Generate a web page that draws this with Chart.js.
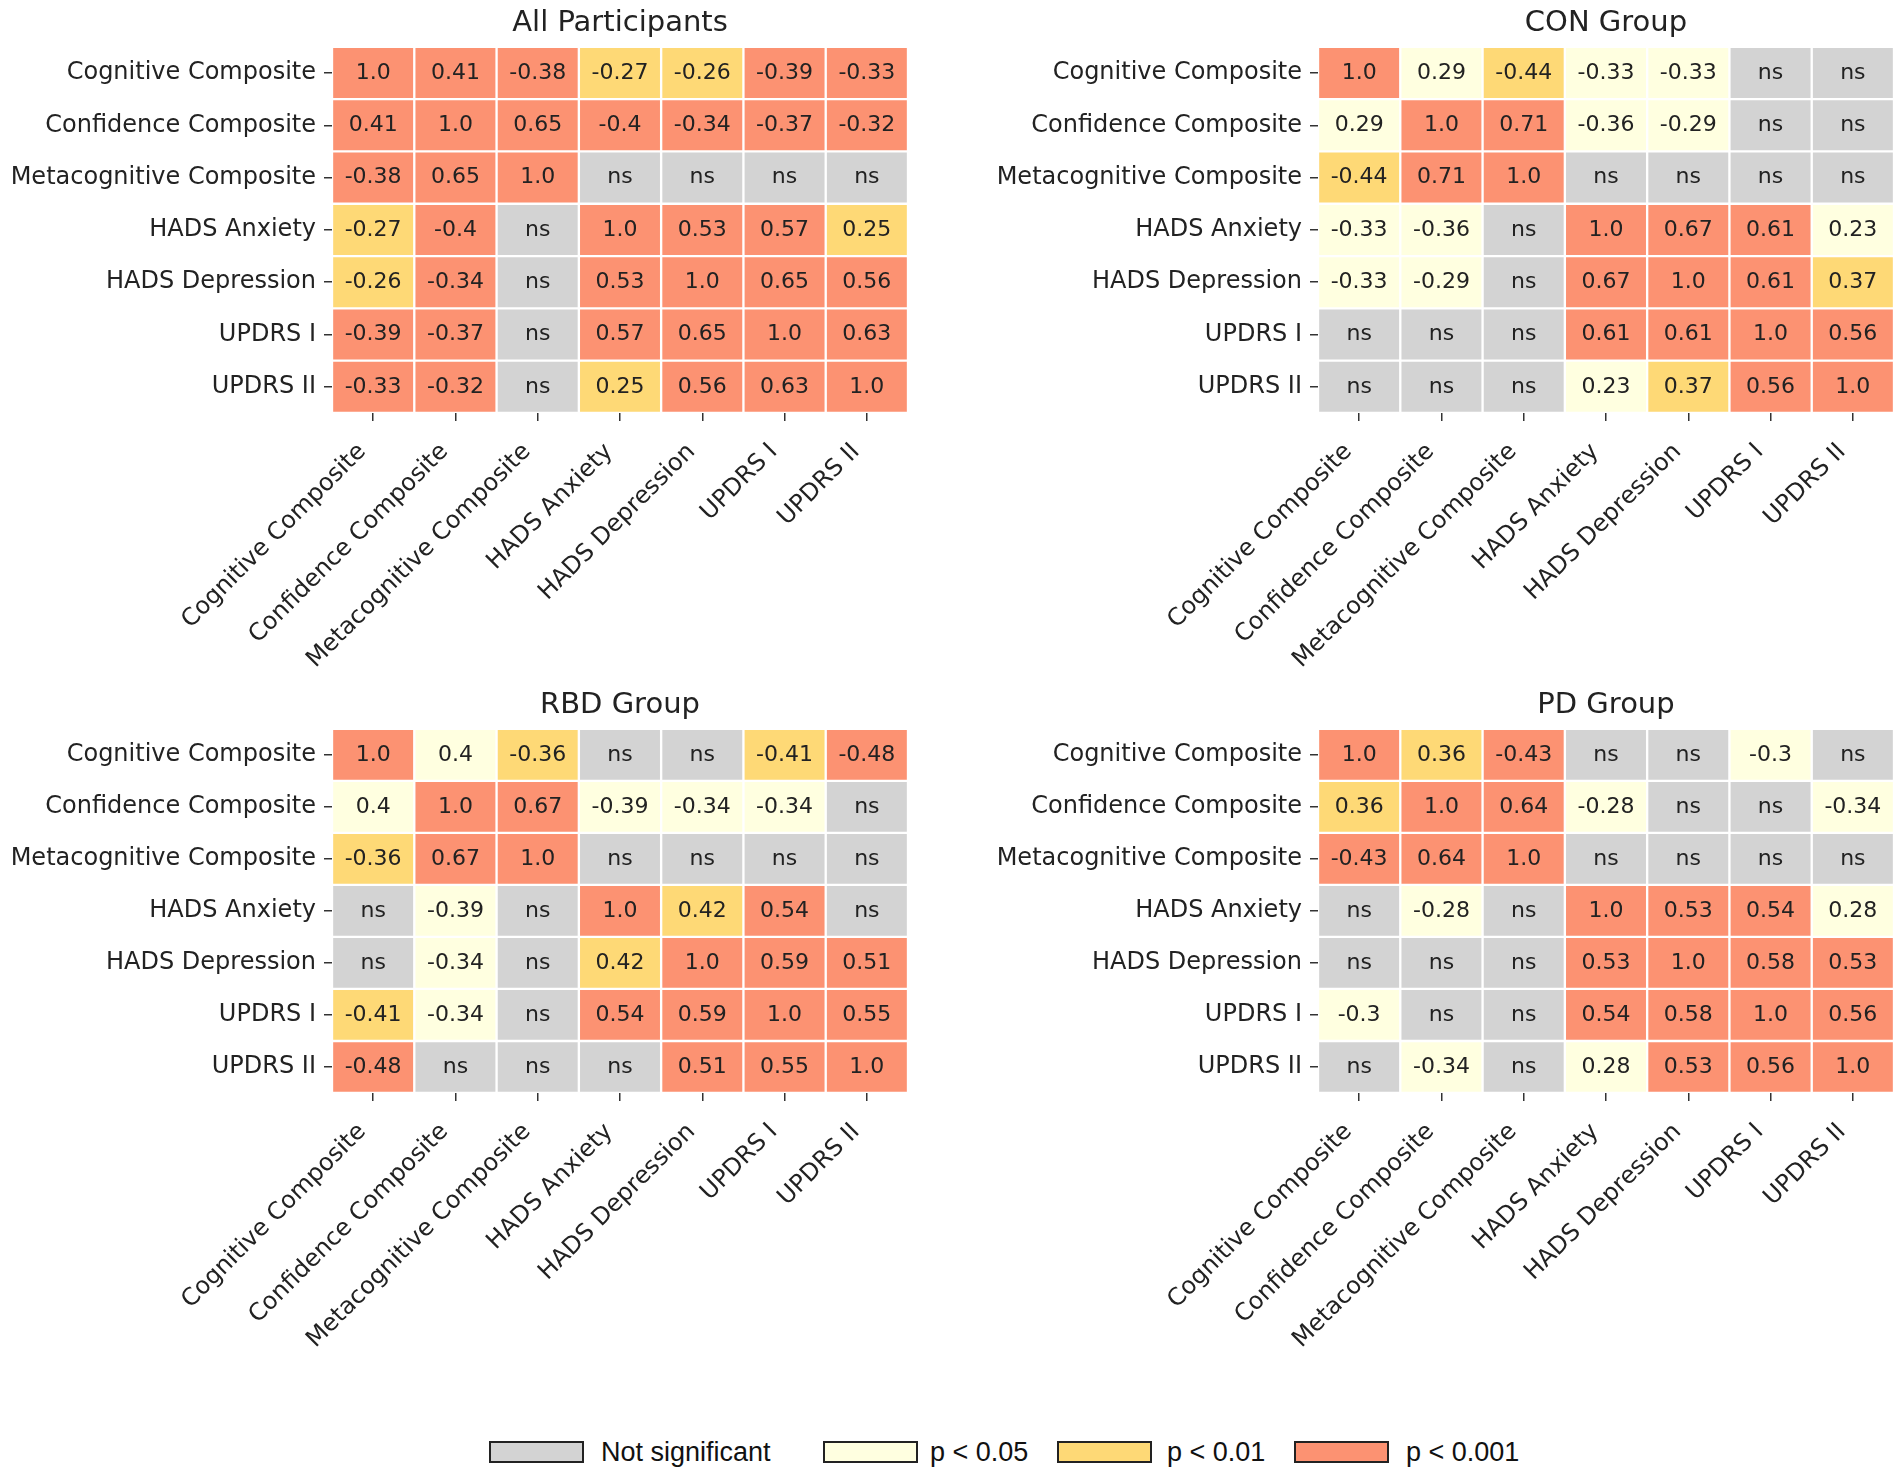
<!DOCTYPE html>
<html>
<head>
<meta charset="utf-8">
<title>Correlation heatmaps</title>
<script src="https://cdn.jsdelivr.net/npm/chart.js@4.4.1/dist/chart.umd.min.js"></script>
<style>
  html, body { margin: 0; padding: 0; background: #fff; }
  body { width: 1902px; height: 1475px; position: relative; overflow: hidden; }
  .panel { position: absolute; width: 951px; }
  .key { position: absolute; top: 1441px; width: 91px; height: 18px; border: 2px solid #222; }
  .lab { position: absolute; top: 1441px; line-height: 22px; white-space: nowrap;
         font-family: "Liberation Sans", Arial, sans-serif; font-size: 27px; color: #111; }
</style>
</head>
<body>
<div class="panel" style="left:0;top:0;height:682px"><canvas id="allChart"></canvas></div>
<div class="panel" style="left:951px;top:0;height:682px"><canvas id="conChart"></canvas></div>
<div class="panel" style="left:0;top:682px;height:680px"><canvas id="rbdChart"></canvas></div>
<div class="panel" style="left:951px;top:682px;height:680px"><canvas id="pdChart"></canvas></div>
<div id="legend"></div>

<script>
// measures, used for both rows and columns
const measures = ['Cognitive Composite', 'Confidence Composite', 'Metacognitive Composite',
  'HADS Anxiety', 'HADS Depression', 'UPDRS I', 'UPDRS II'];

// correlation values, null = not significant ("ns")
const allValues = [
  [1.0, 0.41, -0.38, -0.27, -0.26, -0.39, -0.33],
  [0.41, 1.0, 0.65, -0.4, -0.34, -0.37, -0.32],
  [-0.38, 0.65, 1.0, null, null, null, null],
  [-0.27, -0.4, null, 1.0, 0.53, 0.57, 0.25],
  [-0.26, -0.34, null, 0.53, 1.0, 0.65, 0.56],
  [-0.39, -0.37, null, 0.57, 0.65, 1.0, 0.63],
  [-0.33, -0.32, null, 0.25, 0.56, 0.63, 1.0]
];
// significance level: 0 ns, 1 p<0.05, 2 p<0.01, 3 p<0.001
const allSig = [
  [3, 3, 3, 2, 2, 3, 3],
  [3, 3, 3, 3, 3, 3, 3],
  [3, 3, 3, 0, 0, 0, 0],
  [2, 3, 0, 3, 3, 3, 2],
  [2, 3, 0, 3, 3, 3, 3],
  [3, 3, 0, 3, 3, 3, 3],
  [3, 3, 0, 2, 3, 3, 3]
];

const conValues = [
  [1.0, 0.29, -0.44, -0.33, -0.33, null, null],
  [0.29, 1.0, 0.71, -0.36, -0.29, null, null],
  [-0.44, 0.71, 1.0, null, null, null, null],
  [-0.33, -0.36, null, 1.0, 0.67, 0.61, 0.23],
  [-0.33, -0.29, null, 0.67, 1.0, 0.61, 0.37],
  [null, null, null, 0.61, 0.61, 1.0, 0.56],
  [null, null, null, 0.23, 0.37, 0.56, 1.0]
];
const conSig = [
  [3, 1, 2, 1, 1, 0, 0],
  [1, 3, 3, 1, 1, 0, 0],
  [2, 3, 3, 0, 0, 0, 0],
  [1, 1, 0, 3, 3, 3, 1],
  [1, 1, 0, 3, 3, 3, 2],
  [0, 0, 0, 3, 3, 3, 3],
  [0, 0, 0, 1, 2, 3, 3]
];

const rbdValues = [
  [1.0, 0.4, -0.36, null, null, -0.41, -0.48],
  [0.4, 1.0, 0.67, -0.39, -0.34, -0.34, null],
  [-0.36, 0.67, 1.0, null, null, null, null],
  [null, -0.39, null, 1.0, 0.42, 0.54, null],
  [null, -0.34, null, 0.42, 1.0, 0.59, 0.51],
  [-0.41, -0.34, null, 0.54, 0.59, 1.0, 0.55],
  [-0.48, null, null, null, 0.51, 0.55, 1.0]
];
const rbdSig = [
  [3, 1, 2, 0, 0, 2, 3],
  [1, 3, 3, 1, 1, 1, 0],
  [2, 3, 3, 0, 0, 0, 0],
  [0, 1, 0, 3, 2, 3, 0],
  [0, 1, 0, 2, 3, 3, 3],
  [2, 1, 0, 3, 3, 3, 3],
  [3, 0, 0, 0, 3, 3, 3]
];

const pdValues = [
  [1.0, 0.36, -0.43, null, null, -0.3, null],
  [0.36, 1.0, 0.64, -0.28, null, null, -0.34],
  [-0.43, 0.64, 1.0, null, null, null, null],
  [null, -0.28, null, 1.0, 0.53, 0.54, 0.28],
  [null, null, null, 0.53, 1.0, 0.58, 0.53],
  [-0.3, null, null, 0.54, 0.58, 1.0, 0.56],
  [null, -0.34, null, 0.28, 0.53, 0.56, 1.0]
];
const pdSig = [
  [3, 2, 3, 0, 0, 1, 0],
  [2, 3, 3, 1, 0, 0, 1],
  [3, 3, 3, 0, 0, 0, 0],
  [0, 1, 0, 3, 3, 3, 1],
  [0, 0, 0, 3, 3, 3, 3],
  [1, 0, 0, 3, 3, 3, 3],
  [0, 1, 0, 1, 3, 3, 3]
];

const sigColors = ['#d3d3d3', '#ffffe0', '#fed976', '#fc9272'];
const sigNames = ['Not significant', 'p < 0.05', 'p < 0.01', 'p < 0.001'];

const textColor = '#222';
const tickFont = { family: 'DejaVu Sans', size: 24 };

// writes the r value (or "ns") in the middle of every cell
const cellText = {
  id: 'cellText',
  afterDatasetsDraw(chart) {
    const ctx = chart.ctx;
    ctx.save();
    ctx.font = '22px "DejaVu Sans"';
    ctx.fillStyle = textColor;
    ctx.textAlign = 'center';
    ctx.textBaseline = 'middle';
    chart.data.datasets.forEach((ds, r) => {
      chart.getDatasetMeta(r).data.forEach((bar, c) => {
        const v = ds.cellValues[c];
        const txt = v === null ? 'ns' : (Number.isInteger(v) ? v.toFixed(1) : String(v));
        ctx.fillText(txt, bar.x, (bar.y + bar.base) / 2);
      });
    });
    ctx.restore();
  }
};

function drawPanel(id, title, values, sig, yWidth, padRight, xHeight) {
  new Chart(document.getElementById(id), {
    type: 'bar',
    data: {
      labels: measures,
      // one stacked dataset per row, every cell one unit tall
      datasets: measures.map((name, r) => ({
        label: name,
        data: measures.map(() => 1),
        cellValues: values[r],
        backgroundColor: sig[r].map(s => sigColors[s]),
        borderColor: '#ffffff',
        borderWidth: 1.5,
        borderSkipped: false,
        barPercentage: 1,
        categoryPercentage: 1
      }))
    },
    options: {
      responsive: true,
      maintainAspectRatio: false,
      animation: false,
      layout: { padding: { left: 0, right: padRight, top: 0, bottom: 0 } },
      plugins: {
        legend: { display: false },
        tooltip: { enabled: false },
        title: {
          display: true,
          text: title,
          fullSize: false,
          color: textColor,
          font: { family: 'DejaVu Sans', size: 29, weight: 'normal' },
          padding: { top: 6, bottom: 6 }
        }
      },
      scales: {
        x: {
          stacked: true,
          offset: true,
          border: { display: false },
          grid: { offset: false, drawOnChartArea: false, drawTicks: true, tickLength: 8, color: '#333', lineWidth: 1.5 },
          ticks: {
            autoSkip: false, minRotation: 45, maxRotation: 45, padding: 6, color: textColor, font: tickFont,
            // trailing gap so the rotated label ends just below-left of its tick
            callback: (v, i) => measures[i] + '  '
          },
          afterFit: s => { s.height = xHeight; }
        },
        y: {
          type: 'linear',
          stacked: true,
          reverse: true,
          min: 0,
          max: 7,
          border: { display: false },
          grid: { drawOnChartArea: false, drawTicks: true, tickLength: 8, color: '#333', lineWidth: 1.5 },
          afterBuildTicks: s => { s.ticks = measures.map((_, i) => ({ value: i + 0.5 })); },
          ticks: { padding: 8, color: textColor, font: tickFont, callback: v => measures[Math.floor(v)] },
          afterFit: s => { s.width = yWidth; }
        }
      }
    },
    plugins: [cellText]
  });
}

drawPanel('allChart', 'All Participants', allValues, allSig, 332, 43, 269);
drawPanel('conChart', 'CON Group', conValues, conSig, 367, 8, 269);
drawPanel('rbdChart', 'RBD Group', rbdValues, rbdSig, 332, 43, 269);
drawPanel('pdChart', 'PD Group', pdValues, pdSig, 367, 8, 269);

// figure legend
const keyLeft = [489, 823, 1057, 1294];
const labLeft = [601, 930, 1167, 1406];
const legend = document.getElementById('legend');
sigNames.forEach((name, i) => {
  const box = document.createElement('div');
  box.className = 'key';
  box.style.left = keyLeft[i] + 'px';
  box.style.background = sigColors[i];
  legend.appendChild(box);
  const lab = document.createElement('div');
  lab.className = 'lab';
  lab.style.left = labLeft[i] + 'px';
  lab.textContent = name;
  legend.appendChild(lab);
});
</script>
</body>
</html>
